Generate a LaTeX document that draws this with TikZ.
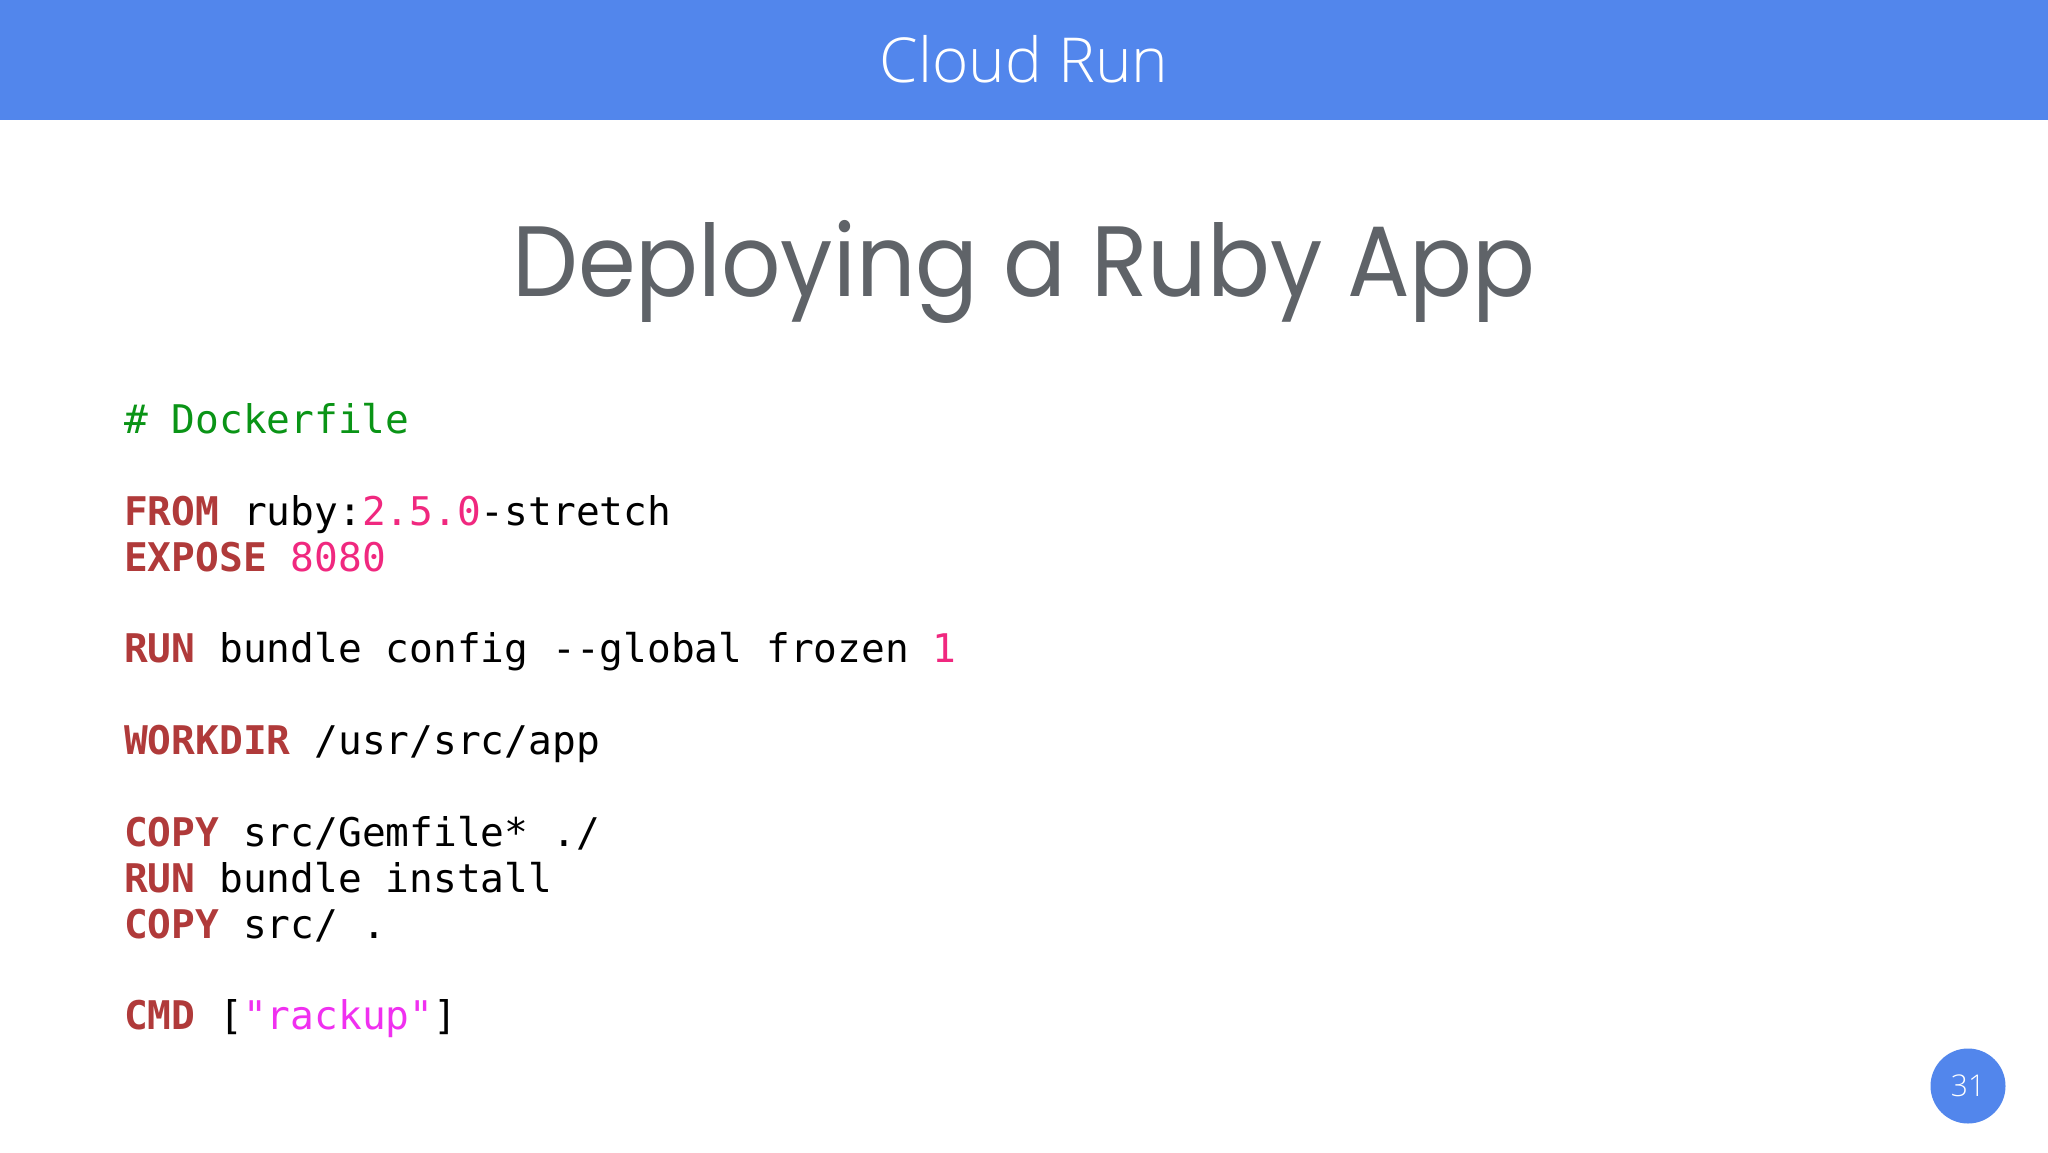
\documentclass[tikz,border=0pt]{standalone}
\usepackage{fontspec}
\setmainfont{Poppins}
\newfontfamily\titlefont[FakeStretch=0.93]{Poppins}
\newfontfamily\codefont{DejaVu Sans Mono}
\newfontfamily\headfont{Open Sans Light}
\definecolor{bar}{HTML}{5286EC}
\definecolor{ttl}{HTML}{5F6368}
\definecolor{kw}{HTML}{B03A3A}
\definecolor{num}{HTML}{F0287F}
\definecolor{cmt}{HTML}{0A9416}
\definecolor{str}{HTML}{F030F0}
\newcommand{\K}[1]{\textcolor{kw}{\bfseries #1}}
\newcommand{\N}[1]{\textcolor{num}{#1}}
\tikzset{x=1pt,y=-1pt,
 code/.style={anchor=base west,inner sep=0pt,font=\codefont\fontsize{39.5}{39.5}\selectfont,text=black}}
\begin{document}
\begin{tikzpicture}
\useasboundingbox (0,0) rectangle (2048,1152);
\fill[white] (0,0) rectangle (2048,1152);
\fill[bar] (0,0) rectangle (2048,120);
\node[anchor=base,inner sep=0pt,text=white,font=\headfont\fontsize{62}{62}\selectfont] (head) at (1024,82) {Cloud Run};
\node[anchor=base,inner sep=0pt,text=ttl,font=\titlefont\fontsize{100}{100}\selectfont] (title) at (1024,296) {Deploying a Ruby App};
\node[code] (l1) at (124,433) {\textcolor{cmt}{\# Dockerfile}};
\node[code] (l2) at (124,525) {\K{FROM} ruby:\N{2.5.0}-stretch};
\node[code] (l3) at (124,571) {\K{EXPOSE} \N{8080}};
\node[code] (l4) at (124,662.5) {\K{RUN} bundle config --global frozen \N{1}};
\node[code] (l5) at (124,754.5) {\K{WORKDIR} /usr/src/app};
\node[code] (l6) at (124,846) {\K{COPY} src/Gemfile* ./};
\node[code] (l7) at (124,892) {\K{RUN} bundle install};
\node[code] (l8) at (124,938) {\K{COPY} src/ .};
\node[code] (l9) at (124,1029) {\K{CMD} [\textcolor{str}{"rackup"}]};
\fill[bar] (1968,1086) circle (37.5);
\node[inner sep=0pt,text=white,font=\headfont\fontsize{30}{30}\selectfont] (page) at (1968,1086) {31};
\end{tikzpicture}
\end{document}
